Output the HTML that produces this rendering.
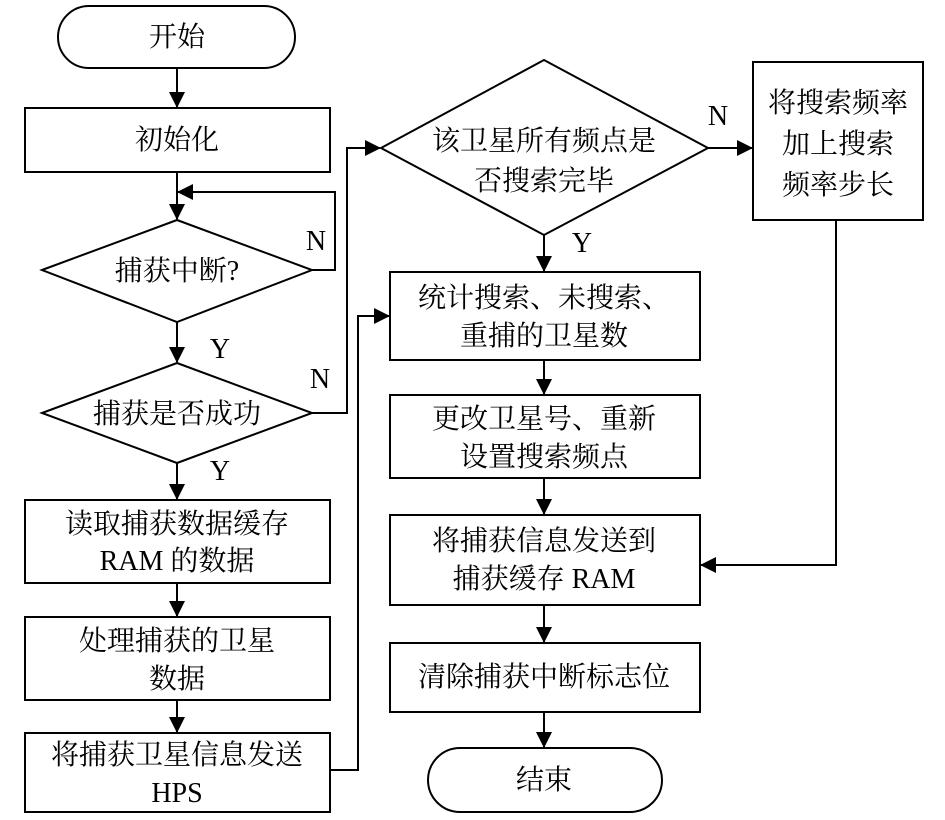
<!DOCTYPE html>
<html><head><meta charset="utf-8"><style>
html,body{margin:0;padding:0;background:#fff;}
svg text{font-family:"Liberation Serif","Noto Serif CJK SC","Noto Sans CJK SC",serif;font-size:28px;fill:#000;text-anchor:middle;}
</style></head><body>
<svg width="945" height="815" viewBox="0 0 945 815" xmlns="http://www.w3.org/2000/svg">
<defs><marker id="a" markerWidth="16" markerHeight="16" refX="15" refY="8" orient="auto" markerUnits="userSpaceOnUse"><path d="M0,0 L16,8 L0,16 z" fill="#000"/></marker></defs>
<g fill="none" stroke="#000" stroke-width="2">
<rect x="58" y="6" width="237" height="62" rx="31"/>
<rect x="25" y="108" width="305" height="64"/>
<polygon points="42,270 177,220 312,270 177,322"/>
<polygon points="42,413 177,363 312,413 177,463"/>
<rect x="25" y="500" width="305" height="83"/>
<rect x="25" y="617" width="305" height="83"/>
<rect x="25" y="733" width="305" height="79"/>
<polygon points="381,148 544,60 708,148 544,235"/>
<rect x="753" y="62" width="170" height="158"/>
<rect x="390" y="272" width="310" height="88"/>
<rect x="390" y="395" width="310" height="83"/>
<rect x="390" y="515" width="310" height="90"/>
<rect x="390" y="643" width="310" height="69"/>
<rect x="428" y="748" width="234" height="64" rx="32"/>
<g marker-end="url(#a)">
<line x1="177" y1="68" x2="177" y2="107"/>
<line x1="177" y1="172" x2="177" y2="219"/>
<polyline points="312,270 335,270 335,192 178,192"/>
<line x1="177" y1="322" x2="177" y2="362"/>
<line x1="177" y1="463" x2="177" y2="499"/>
<line x1="177" y1="583" x2="177" y2="616"/>
<line x1="177" y1="700" x2="177" y2="732"/>
<polyline points="312,413 347,413 347,148 380,148"/>
<polyline points="330,770 358,770 358,316 389,316"/>
<line x1="708" y1="148" x2="752" y2="148"/>
<line x1="544" y1="235" x2="544" y2="271"/>
<line x1="544" y1="360" x2="544" y2="394"/>
<line x1="544" y1="478" x2="544" y2="514"/>
<line x1="544" y1="605" x2="544" y2="642"/>
<line x1="544" y1="712" x2="544" y2="747"/>
<polyline points="836,220 836,565 701,565"/>
</g>
</g>
<text x="177" y="46">开始</text>
<text x="177" y="149">初始化</text>
<text x="177" y="280">捕获中断?</text>
<text x="177" y="423">捕获是否成功</text>
<text x="177" y="533">读取捕获数据缓存</text>
<text x="177" y="570">RAM 的数据</text>
<text x="177" y="650">处理捕获的卫星</text>
<text x="177" y="688">数据</text>
<text x="177" y="764">将捕获卫星信息发送</text>
<text x="177" y="802">HPS</text>
<text x="544" y="150">该卫星所有频点是</text>
<text x="544" y="190">否搜索完毕</text>
<text x="838" y="112">将搜索频率</text>
<text x="838" y="153">加上搜索</text>
<text x="838" y="194">频率步长</text>
<text x="544" y="307">统计搜索、未搜索、</text>
<text x="544" y="345">重捕的卫星数</text>
<text x="544" y="428">更改卫星号、重新</text>
<text x="544" y="466">设置搜索频点</text>
<text x="544" y="550">将捕获信息发送到</text>
<text x="544" y="588">捕获缓存 RAM</text>
<text x="544" y="686">清除捕获中断标志位</text>
<text x="544" y="789">结束</text>
<text x="316" y="250">N</text>
<text x="220" y="358">Y</text>
<text x="320" y="388">N</text>
<text x="220" y="480">Y</text>
<text x="718" y="125">N</text>
<text x="582" y="252">Y</text>
</svg>
</body></html>
